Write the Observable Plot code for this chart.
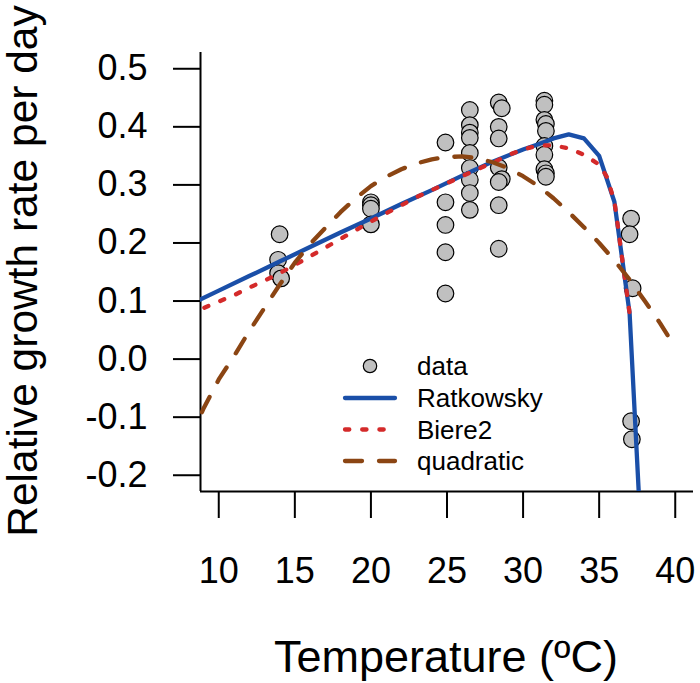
<!DOCTYPE html>
<html>
<head>
<meta charset="utf-8">
<script src="https://cdn.jsdelivr.net/npm/d3@7"></script>
<script src="https://cdn.jsdelivr.net/npm/@observablehq/plot@0.6"></script>
<style>
  html, body { margin: 0; padding: 0; background: #fff; }
  #chart { width: 700px; height: 683px; }
</style>
</head>
<body>
<div id="chart"></div>
<script>
// ---- data ----
const xTicks = [10, 15, 20, 25, 30, 35, 40];
const yTicks = [-0.2, -0.1, 0.0, 0.1, 0.2, 0.3, 0.4, 0.5];
const xDomain = [8.8, 41.2];
const yDomain = [-0.228, 0.528];

const obsTemp = [
  14.0, 13.9, 13.9, 14.1,
  20.0, 20.0, 20.0, 20.0,
  24.9, 24.9, 24.9, 24.9, 24.9,
  26.5, 26.5, 26.5, 26.5, 26.5, 26.5, 26.5, 26.5, 26.5,
  28.4, 28.6, 28.4, 28.4, 28.4, 28.6, 28.4, 28.4, 28.4,
  31.4, 31.4, 31.4, 31.5, 31.5, 31.4, 31.4, 31.4, 31.5, 31.5,
  37.1, 37.0, 37.2, 37.1, 37.15
];
const obsRate = [
  0.215, 0.171, 0.148, 0.139,
  0.270, 0.265, 0.259, 0.232,
  0.373, 0.270, 0.231, 0.184, 0.113,
  0.429, 0.403, 0.390, 0.381, 0.355, 0.329, 0.309, 0.286, 0.257,
  0.442, 0.432, 0.400, 0.380, 0.330, 0.310, 0.305, 0.265, 0.190,
  0.445, 0.438, 0.412, 0.405, 0.393, 0.367, 0.352, 0.327, 0.320, 0.314,
  0.242, 0.215, 0.122, -0.107, -0.138
];

const ratTemp = [8, 10, 12, 14, 16, 18, 20, 22, 24, 26, 28, 30, 31, 32, 33, 34, 35, 36, 37, 38];
const ratRate = [0.093, 0.118, 0.143, 0.168, 0.193, 0.218, 0.242, 0.267, 0.291, 0.316, 0.340, 0.361, 0.370, 0.380, 0.387, 0.380, 0.350, 0.271, 0.079, -0.433];

const bieTemp = [8, 9, 10, 11, 12, 13, 14, 15, 16, 17, 18, 19, 20, 21, 22, 23, 24, 25, 26, 27, 28, 29, 30, 31, 32, 33, 34, 35, 35.5, 36, 36.25, 36.5, 36.75, 37];
const bieRate = [0.078, 0.088, 0.099, 0.110, 0.123, 0.135, 0.148, 0.162, 0.177, 0.192, 0.207, 0.222, 0.237, 0.251, 0.265, 0.279, 0.291, 0.303, 0.315, 0.327, 0.338, 0.351, 0.361, 0.368, 0.368, 0.363, 0.352, 0.335, 0.314, 0.272, 0.225, 0.175, 0.127, 0.079];

const quaTemp = [8, 9, 10, 11, 12, 13, 14, 15, 16, 17, 18, 19, 20, 21, 22, 23, 24, 25, 26, 27, 28, 29, 30, 31, 32, 33, 34, 35, 36, 37, 38, 39, 40];
const quaRate = [-0.145, -0.085, -0.035, 0.005, 0.048, 0.088, 0.128, 0.166, 0.198, 0.226, 0.253, 0.277, 0.298, 0.314, 0.327, 0.337, 0.344, 0.348, 0.349, 0.346, 0.339, 0.329, 0.315, 0.298, 0.277, 0.253, 0.227, 0.200, 0.170, 0.137, 0.100, 0.062, 0.020];

const legendLabels = ["data", "Ratkowsky", "Biere2", "quadratic"];
const xTitle = "Temperature (ºC)";
const yTitle = "Relative growth rate per day";

// ---- tables ----
const obs = obsTemp.map((t, i) => ({t, r: obsRate[i]}));
const rat = ratTemp.map((t, i) => ({t, r: ratRate[i]}));
const bie = bieTemp.map((t, i) => ({t, r: bieRate[i]}));
const qua = quaTemp.map((t, i) => ({t, r: quaRate[i]}));

const FONT = "'Liberation Sans', Arial, Helvetica, sans-serif";
const BLUE = "#1a4fa8", RED = "#d42a2a", BROWN = "#8b4513", GREY = "#c0c0c0";
const LW = 4.3;

const chart = Plot.plot({
  width: 700,
  height: 683,
  marginLeft: 200,
  marginRight: 7,
  marginTop: 52,
  marginBottom: 192,
  style: {fontFamily: FONT, background: "#fff", color: "#000"},
  x: {domain: xDomain},
  y: {domain: yDomain},
  marks: [
    Plot.axisX(xTicks, {tickSize: 27, tickPadding: 39, fontSize: 36, strokeWidth: 2, label: null, tickFormat: d => String(d)}),
    Plot.axisY(yTicks, {tickSize: 27, tickPadding: 26, fontSize: 36, strokeWidth: 2, label: null, tickFormat: d => d.toFixed(1)}),
    Plot.ruleX([xDomain[0]], {stroke: "#000", strokeWidth: 2}),
    Plot.ruleY([yDomain[0]], {stroke: "#000", strokeWidth: 2}),
    Plot.dot(obs, {x: "t", y: "r", r: 8.3, fill: GREY, stroke: "#000", strokeWidth: 1.2}),
    Plot.line(rat, {x: "t", y: "r", stroke: BLUE, strokeWidth: LW, strokeLinecap: "round", strokeLinejoin: "round", clip: true}),
    Plot.line(bie, {x: "t", y: "r", stroke: RED, strokeWidth: LW, strokeLinecap: "round", strokeDasharray: "4.3,12.9", clip: true}),
    Plot.line(qua, {x: "t", y: "r", stroke: BROWN, strokeWidth: LW, strokeLinecap: "round", strokeDasharray: "17,17", clip: true})
  ]
});

document.getElementById("chart").appendChild(chart);

// ---- titles and legend ----
const svg = d3.select(chart);
svg.append("text")
  .attr("x", 446).attr("y", 672)
  .attr("text-anchor", "middle")
  .attr("font-family", FONT).attr("font-size", 45).attr("fill", "#000")
  .text(xTitle);
svg.append("text")
  .attr("transform", "translate(37,271) rotate(-90)")
  .attr("text-anchor", "middle")
  .attr("font-family", FONT).attr("font-size", 42.5).attr("fill", "#000")
  .text(yTitle);

const lg = svg.append("g").attr("font-family", FONT).attr("font-size", 26);
const rowsY = [366, 398, 429.5, 461];
lg.append("circle").attr("cx", 370).attr("cy", rowsY[0]).attr("r", 6.7)
  .attr("fill", GREY).attr("stroke", "#000").attr("stroke-width", 1.2);
const styles = [
  {stroke: BLUE, dash: null},
  {stroke: RED, dash: "4.3,12.9"},
  {stroke: BROWN, dash: "17,17"}
];
styles.forEach((s, i) => {
  const l = lg.append("line").attr("x1", 345).attr("x2", 395)
    .attr("y1", rowsY[i + 1]).attr("y2", rowsY[i + 1])
    .attr("stroke", s.stroke).attr("stroke-width", LW).attr("stroke-linecap", "round");
  if (s.dash) l.attr("stroke-dasharray", s.dash);
});
legendLabels.forEach((lab, i) => {
  lg.append("text").attr("x", 417).attr("y", rowsY[i]).attr("dy", "0.35em")
    .attr("text-anchor", "start")
    .attr("fill", "#000").text(lab);
});
</script>
</body>
</html>
